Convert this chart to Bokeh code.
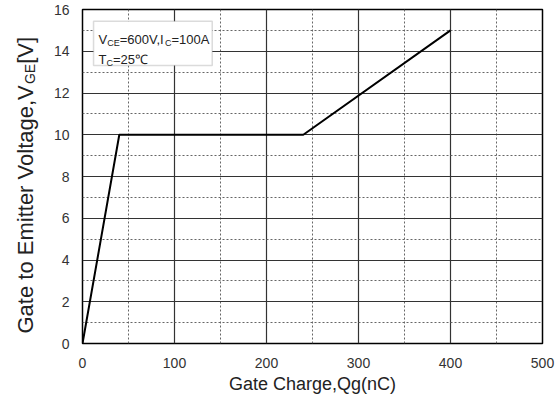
import math
from bokeh.plotting import figure
from bokeh.layouts import row
from bokeh.core.properties import value
from bokeh.models import FixedTicker, Range1d, Label, BoxAnnotation
from bokeh.embed import file_html
from bokeh.resources import INLINE

# ---- data ----
qg_nc = [0, 40, 240, 400]
vge_v = [0, 10, 10, 15]
x_ticks = [0, 100, 200, 300, 400, 500]
x_minor = [50, 150, 250, 350, 450]
y_ticks = [0, 2, 4, 6, 8, 10, 12, 14, 16]
y_minor = [1, 3, 5, 7, 9, 11, 13, 15]
x_title = "Gate Charge,Qg(nC)"
y_title_parts = [("Gate to Emitter Voltage,V", False), ("GE", True), ("[V]", False)]
cond_line1 = [("V", False), ("CE", True), ("=600V,I", False), ("C", True), ("=100A", False)]
cond_line2 = [("T", False), ("C", True), ("=25\u2103", False)]

FONT = "Liberation Sans"
# Arial / Liberation Sans advance widths (em)
W = {'G': .778, 'a': .556, 't': .278, 'e': .556, ' ': .278, 'o': .556, 'E': .667,
     'm': .833, 'i': .222, 'r': .333, 'V': .667, 'l': .222, 'g': .556, ',': .278,
     '[': .278, ']': .278, 'C': .722, '=': .584, '0': .556, '1': .556, '2': .556,
     '5': .556, '6': .556, 'I': .278, 'A': .667, 'T': .611, '\u2103': 1.0}


def text_w(s, size):
    return sum(W.get(c, .556) for c in s) * size


H = 396
LW = 40  # width of the strip that carries the rotated y title
FRAME_H = H - 9 - 53

# ---- strip with the y-axis title (pixel-like coordinates) ----
pt = figure(width=LW, height=H, x_range=Range1d(0, LW), y_range=Range1d(0, FRAME_H),
            output_backend="svg", toolbar_location=None,
            x_axis_location=None, y_axis_location=None,
            min_border_left=0, min_border_right=0, min_border_top=9, min_border_bottom=53)
pt.grid.visible = False
pt.outline_line_color = None
pt.background_fill_color = "white"
pt.border_fill_color = "white"

off = 10
for txt, sub in y_title_parts:
    fs = 14 if sub else 22
    pt.text(x=[25 + (4 if sub else 0)], y=[off], text=[txt], angle=math.pi / 2,
            text_font=value(FONT), text_font_size=f"{fs}px", text_color="#222222",
            text_baseline="alphabetic", text_align="left")
    off += text_w(txt, fs)

# ---- main chart ----
p = figure(width=557 - LW, height=H, x_range=Range1d(0, 500), y_range=Range1d(0, 16),
           output_backend="svg", toolbar_location=None,
           min_border_left=82 - LW, min_border_right=15, min_border_top=9, min_border_bottom=53)

p.outline_line_color = "black"
p.outline_line_width = 1.5
p.background_fill_color = "white"
p.border_fill_color = "white"

p.xaxis.ticker = FixedTicker(ticks=x_ticks, minor_ticks=x_minor)
p.yaxis.ticker = FixedTicker(ticks=y_ticks, minor_ticks=y_minor)
for ax in (p.xaxis, p.yaxis):
    ax.axis_line_color = None
    ax.major_tick_line_color = None
    ax.minor_tick_line_color = None
    ax.major_label_text_font = FONT
    ax.major_label_text_font_size = "14px"
    ax.major_label_text_color = "#333333"
p.xaxis.major_label_standoff = 8
p.yaxis.major_label_standoff = 7
p.xaxis.axis_label = x_title
p.xaxis.axis_label_text_font = FONT
p.xaxis.axis_label_text_font_size = "18px"
p.xaxis.axis_label_text_font_style = "normal"
p.xaxis.axis_label_text_color = "#222222"
p.xaxis.axis_label_standoff = 3

for g in (p.xgrid, p.ygrid):
    g.grid_line_color = "#333333"
    g.grid_line_width = 1.2
    g.minor_grid_line_color = "#666666"
    g.minor_grid_line_dash = "2 2"
    g.minor_grid_line_width = 1

p.line(qg_nc, vge_v, line_color="black", line_width=2)

# condition box
p.add_layout(BoxAnnotation(left=12, right=141, top=15.44, bottom=13.32,
                           fill_color="white", fill_alpha=1.0,
                           line_color="#888888", line_width=1.5))


def put_parts(parts, x0, y0, xoff0, size, sub_size):
    off = xoff0
    for txt, sub in parts:
        fs = sub_size if sub else size
        p.add_layout(Label(x=x0, y=y0, x_offset=off, y_offset=-3 if sub else 0,
                           text=txt, text_font=FONT, text_font_size=f"{fs}px",
                           text_color="#222222", text_baseline="alphabetic",
                           text_align="left"))
        off += text_w(txt, fs)


put_parts(cond_line1, 12, 14.55, 5, 13, 9)
put_parts(cond_line2, 12, 13.59, 5, 13, 9)

layout = row(pt, p, spacing=0)
open("out.html", "w").write(file_html(layout, INLINE))
